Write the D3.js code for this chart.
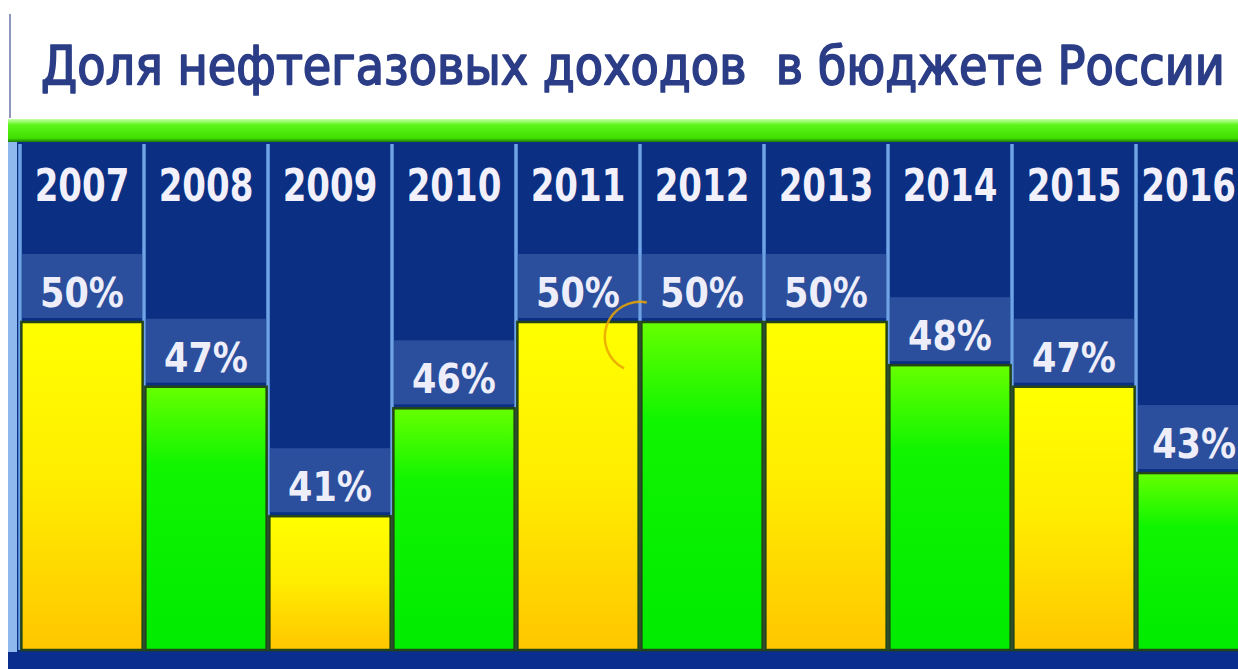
<!DOCTYPE html>
<html>
<head>
<meta charset="utf-8">
<script src="https://cdn.jsdelivr.net/npm/d3@7"></script>
<style>
  html, body { margin: 0; padding: 0; background: #fff; }
  svg { display: block; }
</style>
</head>
<body>
<svg id="chart"></svg>
<script>
// data
const title = 'Доля нефтегазовых доходов  в бюджете России';
const years = ['2007', '2008', '2009', '2010', '2011', '2012', '2013', '2014', '2015', '2016'];
const shares = [50, 47, 41, 46, 50, 50, 50, 48, 47, 43];
const barKinds = ['yellow', 'green', 'yellow', 'green', 'yellow', 'green', 'yellow', 'green', 'yellow', 'green'];

const width = 1238;
const height = 669;
const panelTop = 142;
const baseY = 650;
const font = '"DejaVu Sans Condensed", "DejaVu Sans", sans-serif';

const svg = d3.select('#chart')
  .attr('width', width)
  .attr('height', height);

const defs = svg.append('defs');

const yellowGrad = defs.append('linearGradient')
  .attr('id', 'grad-yellow').attr('x1', 0).attr('y1', 0).attr('x2', 0).attr('y2', 1);
yellowGrad.append('stop').attr('offset', '0%').attr('stop-color', '#ffff00');
yellowGrad.append('stop').attr('offset', '50%').attr('stop-color', '#ffec00');
yellowGrad.append('stop').attr('offset', '100%').attr('stop-color', '#ffc600');

const greenGrad = defs.append('linearGradient')
  .attr('id', 'grad-green').attr('x1', 0).attr('y1', 0).attr('x2', 0).attr('y2', 1);
greenGrad.append('stop').attr('offset', '0%').attr('stop-color', '#66ff00');
greenGrad.append('stop').attr('offset', '30%').attr('stop-color', '#10f500');
greenGrad.append('stop').attr('offset', '100%').attr('stop-color', '#00eb00');

const bandGrad = defs.append('linearGradient')
  .attr('id', 'grad-band').attr('x1', 0).attr('y1', 0).attr('x2', 0).attr('y2', 1);
bandGrad.append('stop').attr('offset', '0%').attr('stop-color', '#c8ffa8');
bandGrad.append('stop').attr('offset', '25%').attr('stop-color', '#5cf51a');
bandGrad.append('stop').attr('offset', '80%').attr('stop-color', '#3fe000');
bandGrad.append('stop').attr('offset', '100%').attr('stop-color', '#1a5a10');

// scales
const x = d3.scaleBand()
  .domain(years)
  .range([20, 1260])
  .paddingInner(0.03)
  .paddingOuter(0.015);

const y = d3.scaleLinear()
  .domain([34.8, 50])
  .range([baseY, 322]);

// keep a centred label inside the picture
function fitX(cx, w) {
  return Math.min(cx, width - w / 2 - 2);
}

// title
svg.append('line')
  .attr('x1', 10).attr('x2', 10).attr('y1', 14).attr('y2', 118)
  .attr('stroke', '#8d96bb').attr('stroke-width', 2);

svg.append('text')
  .attr('xml:space', 'preserve')
  .style('white-space', 'pre')
  .style('font-family', font)
  .style('font-size', '54px')
  .style('fill', '#2b3d86')
  .style('stroke', '#2b3d86')
  .style('stroke-width', 1.7)
  .style('stroke-linejoin', 'round')
  .text(title)
  .attr('transform', function() {
    const s = 1184 / this.getComputedTextLength();
    return `translate(41,84) scale(${s},1)`;
  });

// green band and panel
svg.append('rect')
  .attr('x', 8).attr('y', 119).attr('width', width - 8).attr('height', 24)
  .attr('fill', 'url(#grad-band)');

svg.append('rect')
  .attr('x', 8).attr('y', panelTop).attr('width', width - 8).attr('height', height - panelTop)
  .attr('fill', '#0b2f83');

svg.append('rect')
  .attr('x', 8).attr('y', panelTop).attr('width', 9).attr('height', height - panelTop)
  .attr('fill', '#8fb8ee');

// column separators
const step = x.step();
svg.append('g')
  .selectAll('line')
  .data(years)
  .join('line')
  .attr('x1', d => x(d) - step * x.paddingInner() / 2)
  .attr('x2', d => x(d) - step * x.paddingInner() / 2)
  .attr('y1', panelTop + 2)
  .attr('y2', baseY)
  .attr('stroke', '#6ea4e6')
  .attr('stroke-width', 3.5);

// year labels (condensed horizontally)
const yearScale = 0.86;
svg.append('g')
  .selectAll('text')
  .data(years)
  .join('text')
  .attr('text-anchor', 'middle')
  .style('font-family', font)
  .style('font-weight', 'bold')
  .style('font-size', '44px')
  .style('fill', '#f2f0fb')
  .text(d => d)
  .attr('transform', function(d) {
    const w = this.getComputedTextLength() * yearScale;
    const cx = fitX(x(d) + x.bandwidth() / 2, w);
    return `translate(${cx},201) scale(${yearScale},1)`;
  });

const rows = years.map((yr, i) => ({ year: yr, value: shares[i], kind: barKinds[i] }));

// label boxes
svg.append('g')
  .selectAll('rect')
  .data(rows)
  .join('rect')
  .attr('x', d => x(d.year))
  .attr('y', d => y(d.value) - 68)
  .attr('width', x.bandwidth())
  .attr('height', 64)
  .attr('fill', '#2b4e9d');

// bars
svg.append('g')
  .selectAll('rect')
  .data(rows)
  .join('rect')
  .attr('x', d => x(d.year) - 0.5)
  .attr('y', d => y(d.value))
  .attr('width', x.bandwidth() + 1)
  .attr('height', d => baseY - y(d.value))
  .attr('fill', d => d.kind === 'yellow' ? 'url(#grad-yellow)' : 'url(#grad-green)')
  .attr('stroke', '#234418')
  .attr('stroke-width', 2.5);

// value labels
const valueScale = 0.95;
svg.append('g')
  .selectAll('text')
  .data(rows)
  .join('text')
  .attr('text-anchor', 'middle')
  .style('font-family', font)
  .style('font-weight', 'bold')
  .style('font-size', '41px')
  .style('fill', '#eeeefa')
  .text(d => d.value + '%')
  .attr('transform', function(d) {
    const w = this.getComputedTextLength() * valueScale;
    const cx = fitX(x(d.year) + x.bandwidth() / 2, w);
    return `translate(${cx},${y(d.value) - 15}) scale(${valueScale},1)`;
  });

// bottom strip
svg.append('rect')
  .attr('x', 8).attr('y', baseY + 2).attr('width', width - 8).attr('height', height - baseY - 2)
  .attr('fill', '#0a2e8e');

// small orange arc (screen artefact) between 2011 and 2012
const arcX = x('2012') - step * x.paddingInner() / 2;
svg.append('path')
  .attr('transform', `translate(${arcX},${y(50) + 15})`)
  .attr('d', d3.arc()
    .innerRadius(34)
    .outerRadius(36.5)
    .startAngle(11 * Math.PI / 180)
    .endAngle(-153 * Math.PI / 180)())
  .attr('fill', '#eaa400')
  .attr('opacity', 0.85);
</script>
</body>
</html>
